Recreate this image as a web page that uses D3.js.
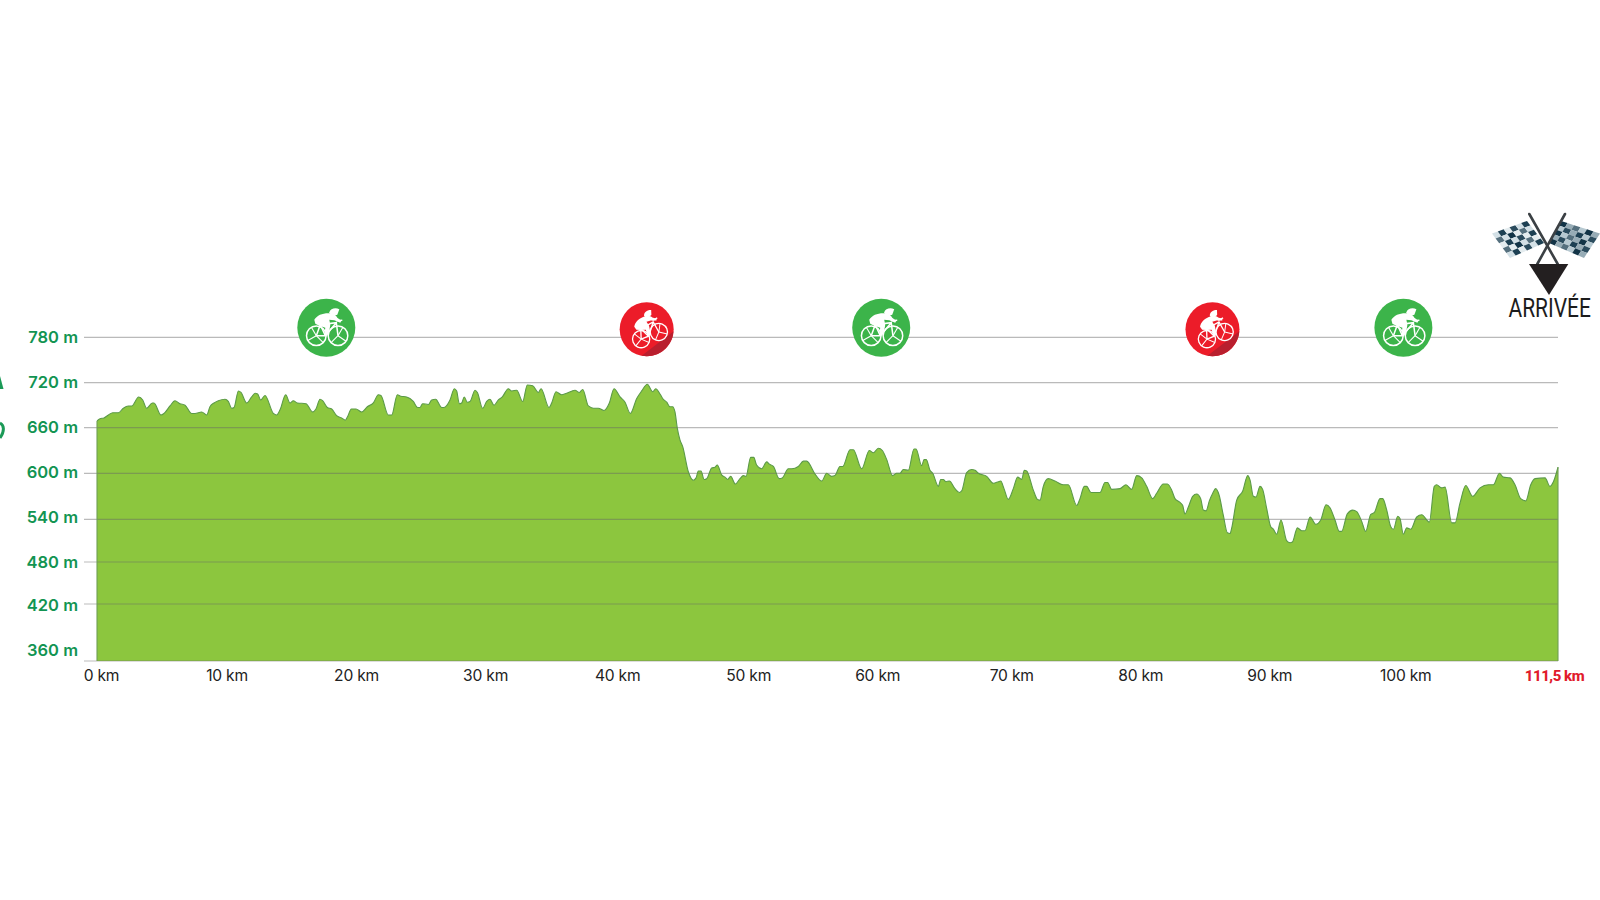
<!DOCTYPE html>
<html><head><meta charset="utf-8"><title>Profil de l'étape</title>
<script src="https://cdn.jsdelivr.net/npm/d3@7/dist/d3.min.js"></script>
<style>html,body{margin:0;padding:0;background:#fff;overflow:hidden}svg{display:block}</style>
</head><body><svg id="c" width="1600" height="900"></svg>
<script>
const kmTicks = [0,10,20,30,40,50,60,70,80,90,100,111.5];
const kmLabels = ["0 km","10 km","20 km","30 km","40 km","50 km","60 km","70 km","80 km","90 km","100 km","111,5 km"];
const altTicks = [360,420,480,540,600,660,720,780];
const sprintsKm = [17.5,59.85,99.7];
const climbsKm = [41.95,85.13];
const distance = [0,.23,.53,.87,1.2,1.63,2.01,2.39,2.65,3.18,3.49,3.79,4.22,4.35,4.88,5.11,5.57,5.95,6.33,6.72,7.23,7.48,7.99,8.37,8.62,8.93,9.26,9.77,10.02,10.28,10.46,10.79,10.99,11.42,11.8,12.06,12.26,12.49,12.82,13.46,13.71,13.97,
14.4,14.73,14.98,15.29,15.95,16.46,16.71,17.02,17.22,17.58,17.91,18.29,18.67,18.95,19.13,19.41,19.77,20.2,20.63,21.09,21.47,21.67,22.23,22.49,22.92,23.18,23.63,24.14,24.47,24.65,24.85,25.29,25.54,25.85,26.3,26.48,26.94,27.27,27.45,27.65,27.83,28.03,28.26,28.47,
28.85,29.03,29.43,29.74,29.99,30.3,30.63,30.93,31.39,31.65,32.03,32.49,32.84,33.25,33.68,33.89,34.5,34.7,35.03,35.46,35.84,36.48,36.81,37.07,37.5,37.88,38.26,38.69,39.1,39.46,39.92,40.3,40.7,41.19,41.57,42,42.41,42.64,42.97,
43.17,43.48,43.73,43.93,44.11,44.29,44.49,44.7,45.13,45.51,45.72,45.89,46.1,46.33,46.53,46.91,47.16,47.34,47.67,47.93,48.13,48.36,48.72,49.07,49.33,49.53,49.89,50.12,50.34,50.73,51.11,51.31,51.62,52.07,52.3,52.76,53.02,53.52,53.91,54.16,54.8,55.31,55.69,56.07,56.32,56.7,56.91,57.47,
57.72,58.36,58.94,59.25,59.63,59.94,60.27,60.72,61.03,61.28,61.54,61.92,62.35,62.51,62.94,63.12,63.29,63.57,63.78,64.21,64.39,64.59,64.79,65.05,65.48,65.81,65.99,66.37,66.75,67.01,67.26,67.9,68.41,68.79,68.97,69.22,69.55,69.93,70.26,70.57,70.77,70.95,71.46,71.77,71.97,
72.22,72.6,73.11,73.75,74.13,74.77,75.02,75.35,75.53,75.86,76.55,76.93,77.13,77.44,78.07,78.53,78.96,79.35,79.73,80.11,80.57,80.87,81.38,81.69,82.02,82.27,82.65,82.86,83.03,83.29,83.62,83.92,84.23,84.43,84.64,84.89,85.15,85.38,85.63,85.96,86.27,86.47,
86.6,86.98,87.44,87.82,88,88.25,88.45,88.76,88.96,89.27,89.57,89.78,90.03,90.36,90.79,91.05,91.23,91.61,91.94,92.19,92.58,93.03,93.39,93.8,94.1,94.48,94.81,94.99,95.42,95.83,96.14,96.52,96.82,97.2,97.49,97.92,98.12,98.43,98.73,98.94,99.27,99.44,
99.7,99.95,100.26,100.72,101.1,101.68,102.06,102.24,102.62,102.88,103.39,103.64,104.02,104.46,104.99,105.55,106.19,106.57,107.03,107.33,107.84,108.22,108.65,109.04,109.42,109.75,110.51,110.89,111.15,111.5];
const altitude = [669,672,673,677,680,680,686,689,689,701,697,686,693,693,677,679,689,696,692,690,679,679,681,677,688,693,696,698,695,686,687,709,707,693,701,706,705,697,703,679,677,684,
704,693,696,693,692,681,685,698,696,687,685,676,673,670,675,685,685,681,688,693,704,703,677,677,704,702,701,695,687,687,692,691,697,698,687,687,697,712,709,692,693,701,694,695,
710,707,686,695,698,690,697,701,712,709,710,695,717,716,707,712,687,693,708,704,706,710,707,711,689,686,686,683,693,712,701,694,679,699,709,718,708,712,705,
699,694,688,688,681,659,644,635,602,591,594,603,603,592,593,607,608,611,598,595,592,596,586,593,597,596,621,621,611,606,615,612,609,593,594,606,606,609,616,616,599,590,600,596,597,609,609,631,
631,606,630,627,633,630,618,597,600,600,605,604,632,632,610,618,618,604,600,583,592,592,589,590,580,575,577,601,605,604,600,596,587,589,590,580,566,580,595,592,604,603,578,566,565,
583,593,590,585,585,558,567,583,583,575,575,588,588,579,580,585,579,597,594,583,567,574,586,586,578,567,562,558,547,556,570,573,567,552,551,564,574,580,572,545,521,520,
528,565,577,597,591,570,569,583,579,554,530,526,519,539,510,507,508,528,524,524,543,533,539,559,555,539,523,523,547,552,550,537,523,546,549,567,567,552,530,526,544,541,
519,528,526,543,546,536,583,585,581,582,535,535,561,584,570,581,585,585,600,595,594,585,567,564,585,593,594,583,589,608];

/* layout (separate from the data) */
const altPixels = [661,604,562,519.3,473.3,427.7,382.7,337.3];
const xLeft = 97, xRight = 1558, gridLeft = 84;
const kmNudge = [4,-1.5,-3,-5,-4,-4,-6,-3,-5,-7,-2,-4];
const altNudge = [-11.5,0.5,-1,-3,-2,-1.5,-1.5,-0.5];

const svg = d3.select("#c");
const x = d3.scaleLinear().domain([0,111.5]).range([xLeft,xRight]);
const y = d3.scaleLinear().domain(altTicks).range(altPixels);
const pts = distance.map((d,i)=>[d,altitude[i]]);

const area = d3.area().x(d=>x(d[0])).y0(y(360)).y1(d=>y(d[1])).curve(d3.curveMonotoneX);
const line = d3.line().x(d=>x(d[0])).y(d=>y(d[1])).curve(d3.curveMonotoneX);

svg.append("path").datum(pts).attr("d",area).attr("fill","#8cc63e");

/* grid + y axis */
const yAxis = d3.axisLeft(y).tickValues(altTicks).tickSize(0).tickPadding(6).tickFormat(d=>d+" m");
const gy = svg.append("g").attr("transform",`translate(${gridLeft},0)`).call(yAxis);
gy.select(".domain").remove();
gy.selectAll(".tick text").attr("dy",null).attr("dominant-baseline","central")
  .attr("y",(d,i)=>altNudge[i])
  .attr("font-family","Inter, 'Noto Sans', sans-serif").attr("font-weight",600)
  .attr("font-size",16.5).attr("fill","#129452");
svg.append("g").selectAll("line").data(altTicks).join("line")
  .attr("x1",gridLeft).attr("x2",xRight).attr("y1",d=>y(d)).attr("y2",d=>y(d))
  .attr("stroke","#666").attr("stroke-opacity",.45).attr("stroke-width",1.2);

/* profile outline */
svg.append("path").datum(pts).attr("d",line).attr("fill","none").attr("stroke","#5b9a47").attr("stroke-width",1.1);
svg.append("line").attr("x1",x(0)).attr("x2",x(0)).attr("y1",y(pts[0][1])).attr("y2",y(360)).attr("stroke","#6f9f55").attr("stroke-width",1.1);
svg.append("line").attr("x1",x(111.5)).attr("x2",x(111.5)).attr("y1",y(608)).attr("y2",y(360)).attr("stroke","#6f9f55").attr("stroke-width",1.1);

/* x axis labels */
const xAxis = d3.axisBottom(x).tickValues(kmTicks).tickSize(0).tickPadding(0).tickFormat((d,i)=>kmLabels[i]);
const gx = svg.append("g").attr("transform",`translate(0,675.5)`).call(xAxis);
gx.select(".domain").remove();
gx.selectAll(".tick text").attr("y",0).attr("dy",null).attr("dominant-baseline","central")
  .attr("x",(d,i)=>kmNudge[i]).attr("text-anchor","middle")
  .attr("font-family","Inter, 'Noto Sans', sans-serif").attr("font-size",15.6).attr("letter-spacing",-.2)
  .attr("fill","#222");
gx.selectAll(".tick").filter(d=>d===111.5).select("text")
  .attr("font-family","Roboto, sans-serif").attr("font-weight",800).attr("font-size",15).attr("fill","#e11b2c").attr("letter-spacing",-.5);

/* cyclist pictogram */
function cyclist(g){
  const wh=[[-10,8],[11.7,8]];
  g.selectAll("circle.w").data(wh).join("circle").attr("class","w").attr("cx",d=>d[0]).attr("cy",d=>d[1]).attr("r",9.8)
    .attr("fill","none").attr("stroke","#fff").attr("stroke-width",1.5);
  wh.forEach((w,i)=>{
    (i? [-60,35,135] : [-120,45,150]).forEach(a=>{
      g.append("line").attr("x1",w[0]).attr("y1",w[1])
       .attr("x2",w[0]+9.8*Math.cos(a*Math.PI/180)).attr("y2",w[1]+9.8*Math.sin(a*Math.PI/180))
       .attr("stroke","#fff").attr("stroke-width",1.1);
    });
  });
  g.append("path").attr("d","M-10 8L-6 -3L10 -5L11.7 8M-6 -3L-1 8L-10 8M-1 8L10 -5").attr("fill","none").attr("stroke","#fff").attr("stroke-width",1.5);
  /* rider: back, arm, thigh */
  g.append("path").attr("d","M-12 -8C-9 -13 -3 -15 4 -14.5C8 -14 10 -12 11 -10L15 -7L14 -5L8 -7.5L3 -8L4 -3L3 3L1 8L-2 7L-1 0L-7 -2L-11 -4Z").attr("fill","#fff");
  /* helmet */
  g.append("path").attr("d","M3 -15.5C4 -19 9 -20.5 13 -18.5L11 -13C8 -11.5 4 -12 3 -15.5Z").attr("fill","#fff");
  g.append("line").attr("x1",10).attr("y1",-7).attr("x2",16).attr("y2",-7.5).attr("stroke","#fff").attr("stroke-width",1.6);
}
const sprintY = 327.7, climbY = 329.3;
sprintsKm.forEach(k=>{
  const g=svg.append("g").attr("transform",`translate(${x(k)},${sprintY})`);
  g.append("circle").attr("r",29).attr("fill","#3cb44a");
  cyclist(g);
});
climbsKm.forEach(k=>{
  const g=svg.append("g").attr("transform",`translate(${x(k)},${climbY})`);
  g.append("circle").attr("r",27).attr("fill","#ec1c29");
  g.append("path").attr("d","M26.9 2A27 27 0 0 1 -5 26.5Z").attr("fill","#b91f2e");
  const c=g.append("g").attr("transform","rotate(-22) scale(.88)");
  cyclist(c);
});

/* finish flags */
const fin = svg.append("g");
function flag(q,rows,cols,seed){
  const P=(u,v)=>{
    const ax=q[0][0]+(q[1][0]-q[0][0])*u, ay=q[0][1]+(q[1][1]-q[0][1])*u;
    const bx=q[3][0]+(q[2][0]-q[3][0])*u, by=q[3][1]+(q[2][1]-q[3][1])*u;
    return [ax+(bx-ax)*v, ay+(by-ay)*v];
  };
  const dark=["#123447","#1d4053","#55707e","#2b4c5e"], light=["#d3e0e6","#b7c9d1","#e4ecef","#97acb6"];
  d3.range(rows).forEach(r=>d3.range(cols).forEach(c=>{
    const col=(r+c+seed)%2? dark[(r*2+c)%4] : light[(r+c*3)%4];
    fin.append("path").attr("d",d3.line()([P(c/cols,r/rows),P((c+1)/cols,r/rows),P((c+1)/cols,(r+1)/rows),P(c/cols,(r+1)/rows)])+"Z").attr("fill",col);
  }));
}
flag([[1492,233.5],[1527,221],[1544,243],[1510,258]],5,6,0);
flag([[1561,221],[1600,233.5],[1584,258],[1549,243]],5,6,1);
[[1529.3,214,1557.7,264],[1565,214,1537.3,264]].forEach(p=>{
  fin.append("line").attr("x1",p[0]).attr("y1",p[1]).attr("x2",p[2]).attr("y2",p[3]).attr("stroke","#3b4044").attr("stroke-width",2.6).attr("stroke-linecap","round");
});
fin.append("path").attr("d","M1529 264L1568.3 264L1549 295Z").attr("fill","#231f20");
const arr = fin.append("text").text("ARRIVÉE")
  .attr("font-family","Roboto, sans-serif").attr("font-weight",400).attr("font-size",25).attr("fill","#1c1c1c");
const sx = 82.5/arr.node().getComputedTextLength();
arr.attr("transform",`translate(1508.5,317) scale(${sx},1)`);

/* clipped rotated caption at the far left edge */
svg.append("path").attr("d","M0 376L3.5 389L0 389Z").attr("fill","#1b9a57");
svg.append("path").attr("d","M0 423C4 425 5 431 0 438").attr("fill","none").attr("stroke","#1b9a57").attr("stroke-width",3);
</script></body></html>
